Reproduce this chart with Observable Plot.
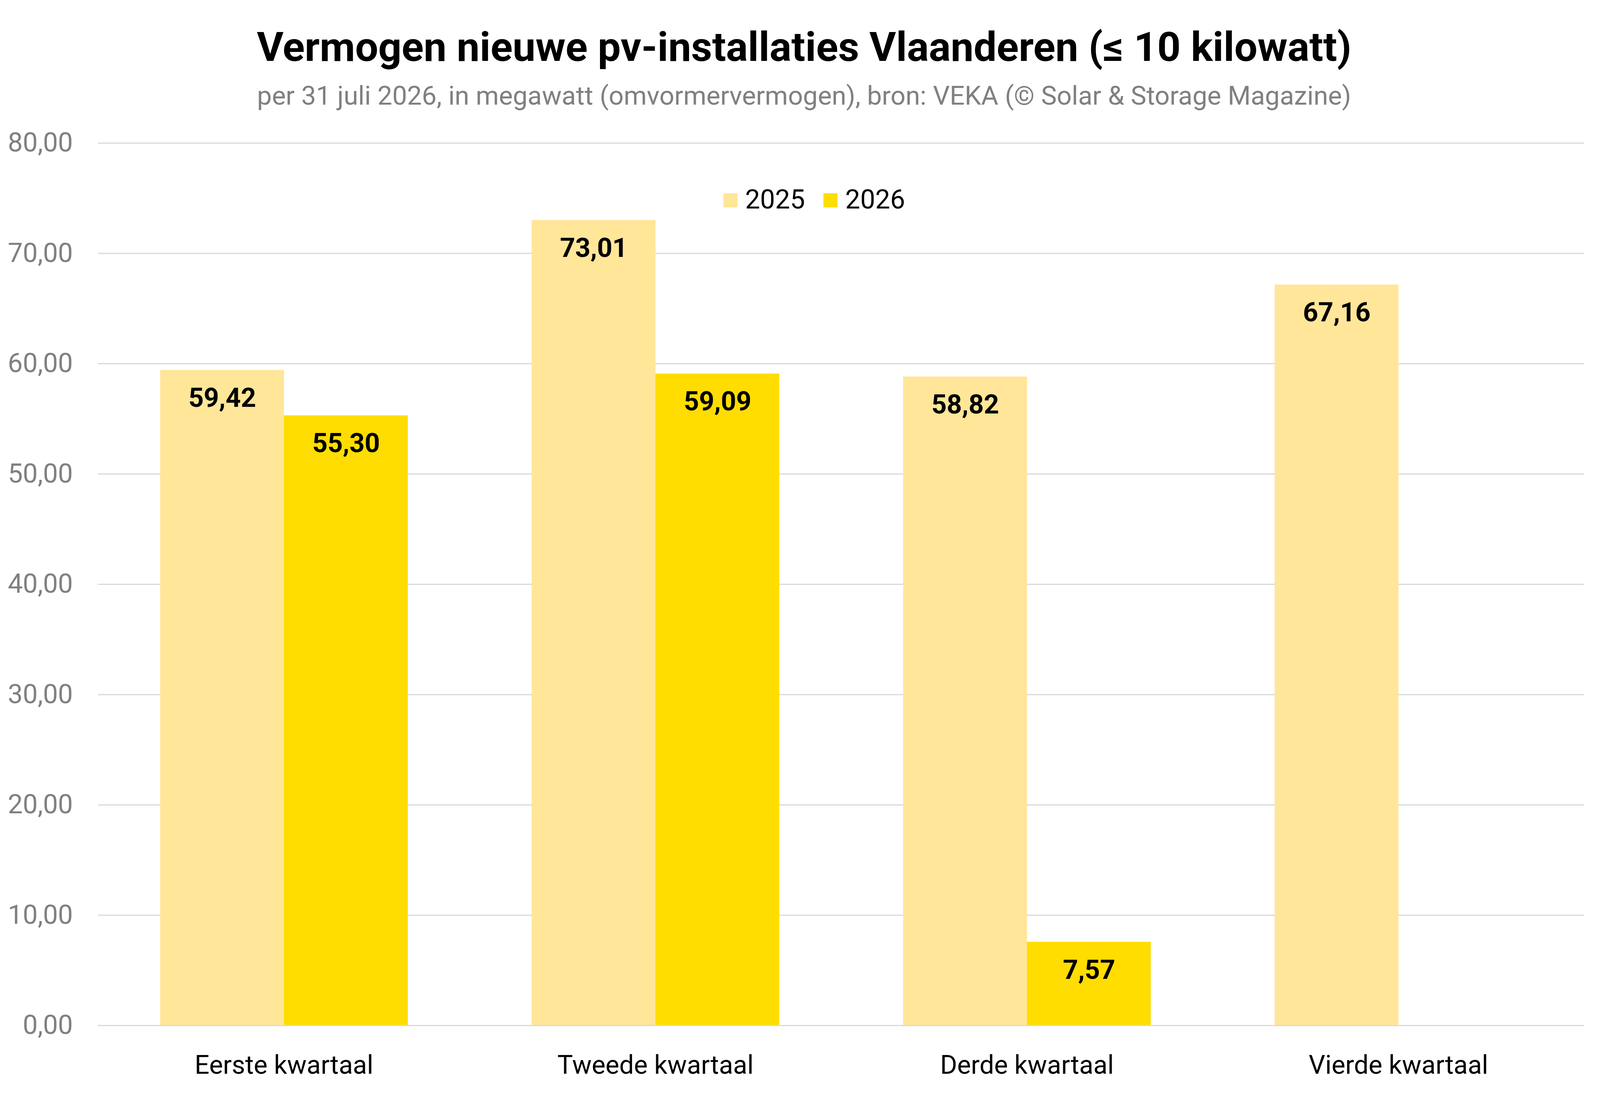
<!DOCTYPE html>
<html>
<head>
<meta charset="utf-8">
<script src="https://cdn.jsdelivr.net/npm/d3@7"></script>
<script src="https://cdn.jsdelivr.net/npm/@observablehq/plot@0.6"></script>
<style>
html, body { margin: 0; padding: 0; background: #ffffff; overflow: hidden; }
#page { position: relative; overflow: hidden; font-family: Roboto, sans-serif; background: #ffffff; }
#header { position: relative; }
#title { position: absolute; text-align: center; font-weight: 700; color: #000; white-space: nowrap; }
#subtitle { position: absolute; text-align: center; font-weight: 400; color: #808080; white-space: nowrap; }
#legend { position: absolute; color: #000; white-space: nowrap; }
#legend .item { display: inline-block; }
#legend .sw { display: inline-block; vertical-align: baseline; position: relative; }
#chart { position: relative; }
</style>
</head>
<body>
<div id="page">
  <div id="header">
    <div id="title">Vermogen nieuwe pv-installaties Vlaanderen (≤ 10 kilowatt)</div>
    <div id="subtitle">per 31 juli 2026, in megawatt (omvormervermogen), bron: VEKA (© Solar &amp; Storage Magazine)</div>
  </div>
  <div id="chart"></div>
  <div id="legend"></div>
</div>
<script>
const quarters = ["Eerste kwartaal", "Tweede kwartaal", "Derde kwartaal", "Vierde kwartaal"];
const years = ["2025", "2026"];
const values2025 = [59.42, 73.01, 58.82, 67.16];
const values2026 = [55.30, 59.09, 7.57, null];
const yTicks = [0, 10, 20, 30, 40, 50, 60, 70, 80];
const colors = ["#FFE699", "#FFDD00"];

// layout designed for 5046×2807, adapted to the real window size
const W = window.innerWidth || 5046;
const H = window.innerHeight || 2807;
const sx = W / 5046, sy = H / 2807, fs = Math.min(sx, sy);
const X = v => v * sx, Y = v => v * sy, F = v => v * fs;
const BASE = 0.842; // Roboto baseline offset for line-height = 1em

const page = document.getElementById("page");
page.style.width = W + "px";
page.style.height = H + "px";
const header = document.getElementById("header");
header.style.width = W + "px";
header.style.height = Y(300) + "px";

const title = document.getElementById("title");
const tSize = F(129);
Object.assign(title.style, {
  fontSize: tSize + "px", lineHeight: tSize + "px",
  width: W + "px", left: (X(2536) - W / 2) + "px",
  top: (Y(157) - BASE * tSize) + "px"
});
const subtitle = document.getElementById("subtitle");
const sSize = F(83);
Object.assign(subtitle.style, {
  fontSize: sSize + "px", lineHeight: sSize + "px",
  width: W + "px", left: (X(2536) - W / 2) + "px",
  top: (Y(268) - BASE * sSize) + "px"
});

const series = [values2025, values2026];
const data = [];
quarters.forEach((q, i) => {
  series.forEach((arr, j) => {
    if (arr[i] != null) data.push({quarter: q, year: years[j], value: arr[i]});
  });
});

const nl = d3.formatLocale({decimal: ",", thousands: ".", grouping: [3], currency: ["€ ", ""]});
const fmt = nl.format(".2f");

const plotHeight = H - Y(300);
const yZero = Y(2626) - Y(300);
const labelSize = F(84);
const catSize = F(82);

const chart = Plot.plot({
  width: W,
  height: plotHeight,
  marginLeft: X(308),
  marginRight: X(50),
  marginTop: Y(366) - Y(300),
  marginBottom: plotHeight - yZero,
  style: {fontFamily: "Roboto, sans-serif", background: "transparent", overflow: "visible"},
  fx: {domain: quarters, padding: 0, label: null},
  x: {domain: years, paddingInner: 0, paddingOuter: 0.5, axis: null},
  y: {domain: [0, 80], axis: null},
  color: {domain: years, range: colors},
  marks: [
    Plot.gridY(yTicks, {stroke: "#D9D9D9", strokeOpacity: 1, strokeWidth: 3}),
    Plot.barY(data, {fx: "quarter", x: "year", y: "value", fill: "year"}),
    Plot.ruleY([0], {stroke: "#D9D9D9", strokeWidth: 3}),
    Plot.text(data, {fx: "quarter", x: "year", y: "value", text: d => fmt(d.value),
      fontWeight: "bold", fontSize: labelSize, fill: "#000", dy: Y(70) + 0.035 * labelSize}),
    Plot.axisY(yTicks, {tickSize: 0, tickPadding: X(80), tickFormat: fmt, fontSize: F(84), fill: "#808080", label: null}),
    Plot.axisFx({anchor: "bottom", tickSize: 0, tickPadding: Y(100) - 0.355 * catSize, fontSize: catSize, fill: "#000", label: null})
  ]
});
document.getElementById("chart").appendChild(chart);

const legend = document.getElementById("legend");
const lSize = F(84);
Object.assign(legend.style, {
  fontSize: lSize + "px", lineHeight: lSize + "px",
  left: X(2281) + "px", top: (Y(534) - BASE * lSize) + "px"
});
years.forEach((y, i) => {
  const item = document.createElement("span");
  item.className = "item";
  if (i < years.length - 1) item.style.marginRight = F(58) + "px";
  const sw = document.createElement("span");
  sw.className = "sw";
  sw.style.background = colors[i];
  sw.style.width = F(45) + "px";
  sw.style.height = F(45) + "px";
  sw.style.marginRight = F(24) + "px";
  sw.style.top = (-F(3)) + "px";
  item.appendChild(sw);
  item.appendChild(document.createTextNode(y));
  legend.appendChild(item);
});
</script>
</body>
</html>
